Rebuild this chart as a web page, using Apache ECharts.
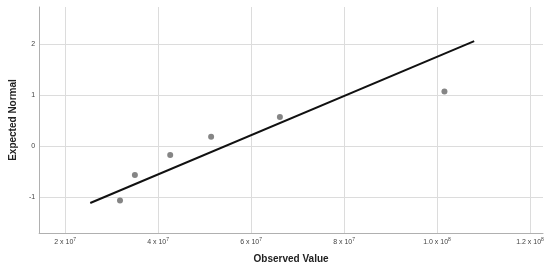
<!DOCTYPE html>
<html>
<head>
<meta charset="utf-8">
<script src="https://cdn.jsdelivr.net/npm/echarts@6/dist/echarts.min.js"></script>
<style>
  html, body { margin: 0; padding: 0; background: #fff; }
  #chart { width: 550px; height: 269px; }
</style>
</head>
<body>
<div id="chart"></div>
<script>
// observed values and their expected normal scores
const observed = [3.18e7, 3.50e7, 4.26e7, 5.14e7, 6.62e7, 10.16e7];
const expectedNormal = [-1.07, -0.57, -0.18, 0.18, 0.57, 1.07];
// reference line end points
const lineX = [2.54e7, 10.80e7];
const lineY = [-1.12, 2.06];
// x tick labels: value -> [mantissa, exponent]
const xTickValues = [2e7, 4e7, 6e7, 8e7, 1.0e8, 1.2e8];
const xTickMantissa = ['2', '4', '6', '8', '1.0', '1.2'];
const xTickExponent = ['7', '7', '7', '7', '8', '8'];
const yTickValues = [-1, 0, 1, 2];

const chart = echarts.init(document.getElementById('chart'));
const font = 'Liberation Sans, Arial, sans-serif';

const option = {
    animation: false,
    backgroundColor: '#fff',
    grid: { left: 39, right: 7, top: 7, bottom: 36 },
    xAxis: {
        type: 'value',
        min: 1.44e7,
        max: 1.228e8,
        name: 'Observed Value',
        nameLocation: 'middle',
        nameGap: 21,
        nameTextStyle: { fontFamily: font, fontSize: 10, fontWeight: 'bold', color: '#222' },
        axisLine: { show: true, onZero: false, lineStyle: { color: '#b0b0b0', width: 1 } },
        axisTick: { show: false },
        axisLabel: {
            margin: 4,
            showMinLabel: false,
            showMaxLabel: false,
            formatter: v => {
                const i = xTickValues.findIndex(t => Math.abs(t - v) < 1);
                if (i < 0) return '';
                return '{b|' + xTickMantissa[i] + ' x 10}{s|' + xTickExponent[i] + '}';
            },
            rich: {
                b: { fontFamily: font, fontSize: 7, color: '#444', lineHeight: 10 },
                s: { fontFamily: font, fontSize: 5, color: '#444', verticalAlign: 'top', lineHeight: 10, padding: [0, 0, 3, 0] }
            }
        },
        splitLine: { show: true, showMinLine: false, showMaxLine: false, lineStyle: { color: '#dcdcdc', width: 1 } }
    },
    yAxis: {
        type: 'value',
        min: -1.71,
        max: 2.73,
        name: 'Expected Normal',
        nameLocation: 'middle',
        nameGap: 20,
        nameTextStyle: { fontFamily: font, fontSize: 10, fontWeight: 'bold', color: '#222' },
        axisLine: { show: true, onZero: false, lineStyle: { color: '#b0b0b0', width: 1 } },
        axisTick: { show: false },
        axisLabel: {
            margin: 4,
            fontFamily: font,
            fontSize: 7,
            color: '#444',
            showMinLabel: false,
            showMaxLabel: false,
            formatter: v => yTickValues.some(t => Math.abs(t - v) < 1e-6) ? String(Math.round(v)) : ''
        },
        splitLine: { show: true, showMinLine: false, showMaxLine: false, lineStyle: { color: '#dcdcdc', width: 1 } }
    },
    series: [
        {
            type: 'line',
            data: lineX.map((x, i) => [x, lineY[i]]),
            showSymbol: false,
            lineStyle: { color: '#111', width: 2 },
            z: 2
        },
        {
            type: 'scatter',
            data: observed.map((x, i) => [x, expectedNormal[i]]),
            symbolSize: 6,
            itemStyle: { color: '#666' },
            z: 3
        }
    ]
};
chart.setOption(option);
</script>
</body>
</html>
